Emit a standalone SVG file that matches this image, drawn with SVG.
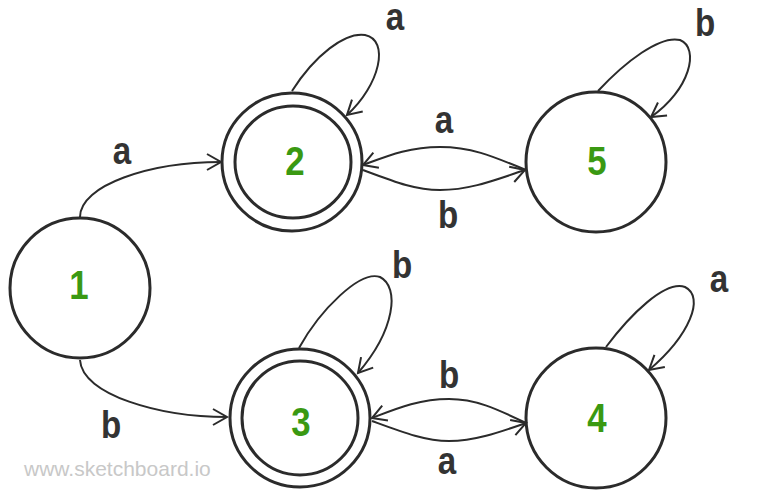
<svg xmlns="http://www.w3.org/2000/svg" width="772" height="493" viewBox="0 0 772 493">
<style>
.node{fill:none;stroke:#2b2b2b;stroke-width:3}
.num{font-family:"Liberation Sans",Arial,sans-serif;font-weight:bold;font-size:41px;fill:#3a9912;text-anchor:middle}
.lbl{font-family:"Liberation Sans",Arial,sans-serif;font-weight:bold;font-size:39px;fill:#333;text-anchor:middle}
.edge{fill:none;stroke:#2b2b2b;stroke-width:2;marker-end:url(#arr)}
.wm{font-family:"Liberation Sans",Arial,sans-serif;font-size:21px;fill:#c8c8c8}
</style>
<defs>
<marker id="arr" markerUnits="userSpaceOnUse" viewBox="-16 -10 20 20" refX="0" refY="0" markerWidth="20" markerHeight="20" orient="auto">
<path d="M-14,-8 L0,0 L-14,8" fill="none" stroke="#2b2b2b" stroke-width="2"/>
</marker>
</defs>
<rect width="772" height="493" fill="#fff"/>
<g id="connectors">
<path class="edge" d="M80,217 C80,185 150,162 221,162"/>
<path class="edge" d="M80,360 C82,395 160,417 227,417"/>
<path class="edge" d="M292,91 C315,55 345,32 365,35 C390,40 380,85 347,115"/>
<path class="edge" d="M598,91 C625,62 660,35 680,40 C700,48 690,90 651,117"/>
<path class="edge" d="M299,348 C320,310 360,270 380,277 C400,287 395,330 358,373"/>
<path class="edge" d="M606,347 C630,315 665,280 685,287 C705,297 690,335 649,370"/>
<path class="edge" d="M526,170 C490,155 470,147 440,147 C410,147 390,155 363,165"/>
<path class="edge" d="M363,170 C395,182 415,190 440,190 C470,190 495,180 525,170"/>
<path class="edge" d="M526,423 C495,408 475,399 449,399 C420,399 398,408 372,418"/>
<path class="edge" d="M372,421 C402,432 425,441 449,441 C475,441 500,432 526,423"/>
</g>
<g id="node1"><ellipse class="node" cx="80" cy="288" rx="70" ry="70"/><text class="num" transform="translate(79 299) scale(0.85 1)">1</text></g>
<g id="node2"><ellipse class="node" cx="292" cy="162" rx="70" ry="69"/><ellipse class="node" cx="293" cy="162" rx="58" ry="56"/><text class="num" transform="translate(295 175) scale(0.85 1)">2</text></g>
<g id="node5"><ellipse class="node" cx="596" cy="162" rx="70" ry="70"/><text class="num" transform="translate(597 175) scale(0.85 1)">5</text></g>
<g id="node3"><ellipse class="node" cx="300" cy="418" rx="70" ry="69"/><ellipse class="node" cx="300" cy="418" rx="58" ry="57"/><text class="num" transform="translate(301 436) scale(0.85 1)">3</text></g>
<g id="node4"><ellipse class="node" cx="596" cy="418" rx="70" ry="70"/><text class="num" transform="translate(597 432) scale(0.85 1)">4</text></g>
<g id="labels">
<text class="lbl" transform="translate(122 164) scale(0.85 1)">a</text>
<text class="lbl" transform="translate(395 30) scale(0.85 1)">a</text>
<text class="lbl" transform="translate(705 36) scale(0.85 1)">b</text>
<text class="lbl" transform="translate(444 133) scale(0.85 1)">a</text>
<text class="lbl" transform="translate(448 228) scale(0.85 1)">b</text>
<text class="lbl" transform="translate(402 278) scale(0.85 1)">b</text>
<text class="lbl" transform="translate(719 292) scale(0.85 1)">a</text>
<text class="lbl" transform="translate(449 388) scale(0.85 1)">b</text>
<text class="lbl" transform="translate(111 438) scale(0.85 1)">b</text>
<text class="lbl" transform="translate(447 474) scale(0.85 1)">a</text>
</g>
<text class="wm" x="24" y="476">www.sketchboard.io</text>
</svg>
